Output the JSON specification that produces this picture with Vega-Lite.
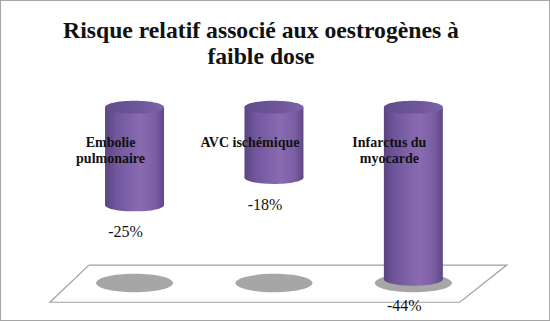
{
  "$schema": "https://vega.github.io/schema/vega-lite/v6.json",
  "width": 550,
  "height": 321,
  "autosize": {"type": "fit", "contains": "padding"},
  "padding": 0,
  "background": "white",
  "config": {"view": {"stroke": "#a6a6a6", "strokeWidth": 2}},
  "title": {
    "text": ["Risque relatif associé aux oestrogènes à", "faible dose"],
    "font": "Liberation Serif",
    "fontWeight": "bold",
    "fontSize": 23.7,
    "color": "#111111",
    "lineHeight": 26,
    "anchor": "middle",
    "dx": -14,
    "offset": -69
  },
  "datasets": {
    "bars": [
      {"cat": "Embolie\npulmonaire", "pos": 1, "value": -25, "label": "-25%"},
      {"cat": "AVC ischémique", "pos": 2, "value": -18, "label": "-18%"},
      {"cat": "Infarctus du\nmyocarde", "pos": 3, "value": -44, "label": "-44%"}
    ],
    "floor": [
      {"fx": 0.673, "fy": -40.4, "o": 1},
      {"fx": 3.67, "fy": -40.4, "o": 2},
      {"fx": 3.333, "fy": -49.9, "o": 3},
      {"fx": 0.393, "fy": -49.9, "o": 4},
      {"fx": 0.673, "fy": -40.4, "o": 5}
    ]
  },
  "encoding": {
    "x": {"type": "quantitative", "scale": {"domain": [0.035, 3.98], "nice": false, "zero": false, "padding": 0}, "axis": null},
    "y": {"type": "quantitative", "scale": {"domain": [-54.7, 27.4], "nice": false, "zero": false, "padding": 0}, "axis": null}
  },
  "layer": [
    {
      "data": {"name": "floor"},
      "mark": {"type": "line", "stroke": "#a0a0a0", "strokeWidth": 1.2},
      "encoding": {
        "x": {"field": "fx", "type": "quantitative"},
        "y": {"field": "fy", "type": "quantitative"},
        "order": {"field": "o"}
      }
    },
    {
      "data": {"name": "bars"},
      "layer": [
        {
          "mark": {"type": "point", "filled": true, "shape": "M -1 0 A 1 0.24 0 1 0 1 0 A 1 0.24 0 1 0 -1 0 Z", "size": 5929, "color": "#a6a6a6", "opacity": 1},
          "encoding": {
            "x": {"field": "pos", "type": "quantitative"},
            "y": {"datum": -45}
          }
        },
        {
          "mark": {"type": "bar", "size": 59, "fill": {"gradient": "linear", "x1": 0, "x2": 1, "y1": 0, "y2": 0, "stops": [{"offset": 0, "color": "#5a4580"}, {"offset": 0.2, "color": "#72579e"}, {"offset": 0.6, "color": "#8a6bb2"}, {"offset": 0.85, "color": "#7a5ea3"}, {"offset": 1, "color": "#5e4884"}]}},
          "encoding": {
            "x": {"field": "pos", "type": "quantitative"},
            "y": {"field": "value", "type": "quantitative"},
            "y2": {"datum": 0}
          }
        },
        {
          "mark": {"type": "point", "filled": true, "opacity": 1, "shape": "M -1 0 A 1 0.22 0 1 0 1 0 A 1 0.22 0 1 0 -1 0 Z", "size": 3481, "fill": {"gradient": "linear", "x1": 0, "x2": 1, "y1": 0, "y2": 0, "stops": [{"offset": 0, "color": "#5a4580"}, {"offset": 0.2, "color": "#72579e"}, {"offset": 0.6, "color": "#8a6bb2"}, {"offset": 0.85, "color": "#7a5ea3"}, {"offset": 1, "color": "#5e4884"}]}},
          "encoding": {
            "x": {"field": "pos", "type": "quantitative"},
            "y": {"field": "value", "type": "quantitative"}
          }
        },
        {
          "mark": {"type": "point", "filled": true, "opacity": 1, "shape": "M -1 0 A 1 0.22 0 1 0 1 0 A 1 0.22 0 1 0 -1 0 Z", "size": 3481, "fill": {"gradient": "linear", "x1": 0, "x2": 1, "y1": 0, "y2": 0, "stops": [{"offset": 0, "color": "#624c8c"}, {"offset": 0.6, "color": "#6f579a"}, {"offset": 1, "color": "#7d64a8"}]}},
          "encoding": {
            "x": {"field": "pos", "type": "quantitative"},
            "y": {"datum": 0}
          }
        },
        {
          "mark": {"type": "text", "font": "Liberation Serif", "fontWeight": "bold", "fontSize": 14, "color": "#111111", "lineBreak": "\n", "lineHeight": 16, "baseline": "top", "align": "center", "dx": -24},
          "encoding": {
            "x": {"field": "pos", "type": "quantitative"},
            "y": {"datum": -7.3},
            "text": {"field": "cat"}
          }
        },
        {
          "mark": {"type": "text", "font": "Liberation Serif", "fontSize": 16, "color": "#111111", "baseline": "middle", "align": "center", "dx": -9, "dy": 27},
          "encoding": {
            "x": {"field": "pos", "type": "quantitative"},
            "y": {"field": "value", "type": "quantitative"},
            "text": {"field": "label"}
          }
        }
      ]
    }
  ]
}
